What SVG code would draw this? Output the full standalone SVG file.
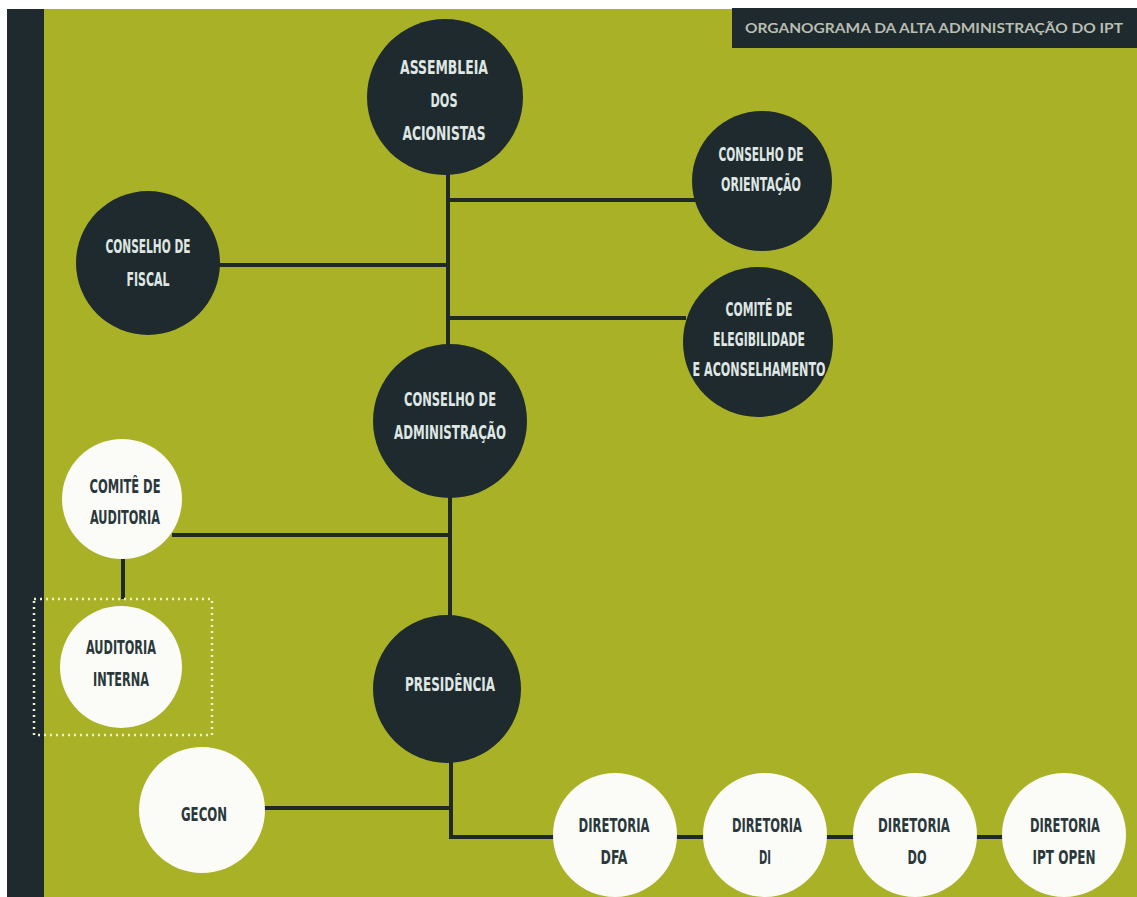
<svg xmlns="http://www.w3.org/2000/svg" width="1137" height="897" viewBox="0 0 1137 897">
  <style>
    .dark { fill: #1e2a2d; }
    .light { fill: #fbfbf7; }
    .t { font-family: "DejaVu Sans Condensed", "Liberation Sans Narrow", "Liberation Sans", sans-serif; font-weight: bold; font-size: 20px; text-anchor: middle; }
    .tl { fill: #dfe6e4; }
    .td { fill: #2a383b; }
    .conn { stroke: #1f2a26; stroke-width: 4; fill: none; }
  </style>
  <rect x="0" y="0" width="1137" height="897" fill="#ffffff"/>
  <rect x="7" y="9" width="1130" height="888" fill="#a9b127"/>
  <rect x="7" y="9" width="37" height="888" class="dark"/>
  <g id="title">
    <rect x="732" y="8" width="405" height="40" class="dark"/>
    <text x="934" y="33" font-family="Lato, 'Open Sans', sans-serif" font-weight="bold" font-size="12.5" fill="#b9bdb2" text-anchor="middle" textLength="378" lengthAdjust="spacingAndGlyphs">ORGANOGRAMA DA ALTA ADMINISTRAÇÃO DO IPT</text>
  </g>
  <g id="connectors">
    <line class="conn" x1="448" y1="170" x2="448" y2="350"/>
    <line class="conn" x1="448" y1="200" x2="695" y2="200"/>
    <line class="conn" x1="215" y1="265" x2="448" y2="265"/>
    <line class="conn" x1="448" y1="318" x2="686" y2="318"/>
    <line class="conn" x1="450" y1="492" x2="450" y2="620"/>
    <line class="conn" x1="172" y1="535" x2="450" y2="535"/>
    <line class="conn" x1="123" y1="556" x2="123" y2="599"/>
    <line class="conn" x1="451" y1="758" x2="451" y2="837"/>
    <line class="conn" x1="262" y1="808" x2="451" y2="808"/>
    <line class="conn" x1="449" y1="837" x2="556" y2="837"/>
    <line class="conn" x1="674" y1="837" x2="706" y2="837"/>
    <line class="conn" x1="824" y1="837" x2="856" y2="837"/>
    <line class="conn" x1="974" y1="837" x2="1006" y2="837"/>
  </g>
  <g id="dotted-box">
    <rect x="34" y="599" width="178" height="136" fill="none" stroke="#eef0c8" stroke-width="2.5" stroke-dasharray="2 4"/>
  </g>
  <g id="assembleia">
    <circle cx="445" cy="97" r="78" class="dark"/>
    <text class="t tl" x="444" y="74" textLength="88" lengthAdjust="spacingAndGlyphs">ASSEMBLEIA</text>
    <text class="t tl" x="444" y="107" textLength="27" lengthAdjust="spacingAndGlyphs">DOS</text>
    <text class="t tl" x="444" y="140" textLength="83" lengthAdjust="spacingAndGlyphs">ACIONISTAS</text>
  </g>
  <g id="orientacao">
    <circle cx="762" cy="181" r="70" class="dark"/>
    <text class="t tl" x="761" y="161" textLength="85" lengthAdjust="spacingAndGlyphs">CONSELHO DE</text>
    <text class="t tl" x="761" y="191" textLength="80" lengthAdjust="spacingAndGlyphs">ORIENTAÇÃO</text>
  </g>
  <g id="elegibilidade">
    <circle cx="758" cy="342" r="75" class="dark"/>
    <text class="t tl" x="759" y="316" textLength="67" lengthAdjust="spacingAndGlyphs">COMITÊ DE</text>
    <text class="t tl" x="759" y="346" textLength="92" lengthAdjust="spacingAndGlyphs">ELEGIBILIDADE</text>
    <text class="t tl" x="759" y="376" textLength="133" lengthAdjust="spacingAndGlyphs">E ACONSELHAMENTO</text>
  </g>
  <g id="fiscal">
    <circle cx="148" cy="263" r="72" class="dark"/>
    <text class="t tl" x="148" y="253" textLength="85" lengthAdjust="spacingAndGlyphs">CONSELHO DE</text>
    <text class="t tl" x="148" y="286" textLength="43" lengthAdjust="spacingAndGlyphs">FISCAL</text>
  </g>
  <g id="administracao">
    <circle cx="450" cy="421" r="77" class="dark"/>
    <text class="t tl" x="450" y="406" textLength="92" lengthAdjust="spacingAndGlyphs">CONSELHO DE</text>
    <text class="t tl" x="450" y="439" textLength="112" lengthAdjust="spacingAndGlyphs">ADMINISTRAÇÃO</text>
  </g>
  <g id="comite-auditoria">
    <circle cx="122" cy="499" r="60" class="light"/>
    <text class="t td" x="125" y="493" textLength="71" lengthAdjust="spacingAndGlyphs">COMITÊ DE</text>
    <text class="t td" x="125" y="524" textLength="70" lengthAdjust="spacingAndGlyphs">AUDITORIA</text>
  </g>
  <g id="auditoria-interna">
    <circle cx="121" cy="667" r="61" class="light"/>
    <text class="t td" x="121" y="654" textLength="70" lengthAdjust="spacingAndGlyphs">AUDITORIA</text>
    <text class="t td" x="121" y="686" textLength="56" lengthAdjust="spacingAndGlyphs">INTERNA</text>
  </g>
  <g id="presidencia">
    <circle cx="447" cy="689" r="74" class="dark"/>
    <text class="t tl" x="450" y="691" textLength="90" lengthAdjust="spacingAndGlyphs">PRESIDÊNCIA</text>
  </g>
  <g id="gecon">
    <circle cx="202" cy="810" r="63" class="light"/>
    <text class="t td" x="204" y="821" textLength="46" lengthAdjust="spacingAndGlyphs">GECON</text>
  </g>
  <g id="dfa">
    <circle cx="615" cy="835" r="62" class="light"/>
    <text class="t td" x="614" y="832" textLength="71" lengthAdjust="spacingAndGlyphs">DIRETORIA</text>
    <text class="t td" x="614" y="864" textLength="27" lengthAdjust="spacingAndGlyphs">DFA</text>
  </g>
  <g id="di">
    <circle cx="765" cy="835" r="62" class="light"/>
    <text class="t td" x="767" y="832" textLength="70" lengthAdjust="spacingAndGlyphs">DIRETORIA</text>
    <text class="t td" x="765" y="864" textLength="12" lengthAdjust="spacingAndGlyphs">DI</text>
  </g>
  <g id="do">
    <circle cx="915" cy="835" r="62" class="light"/>
    <text class="t td" x="914" y="832" textLength="72" lengthAdjust="spacingAndGlyphs">DIRETORIA</text>
    <text class="t td" x="917" y="864" textLength="19" lengthAdjust="spacingAndGlyphs">DO</text>
  </g>
  <g id="ipt-open">
    <circle cx="1064" cy="835" r="62" class="light"/>
    <text class="t td" x="1065" y="832" textLength="70" lengthAdjust="spacingAndGlyphs">DIRETORIA</text>
    <text class="t td" x="1064" y="864" textLength="63" lengthAdjust="spacingAndGlyphs">IPT OPEN</text>
  </g>
</svg>
